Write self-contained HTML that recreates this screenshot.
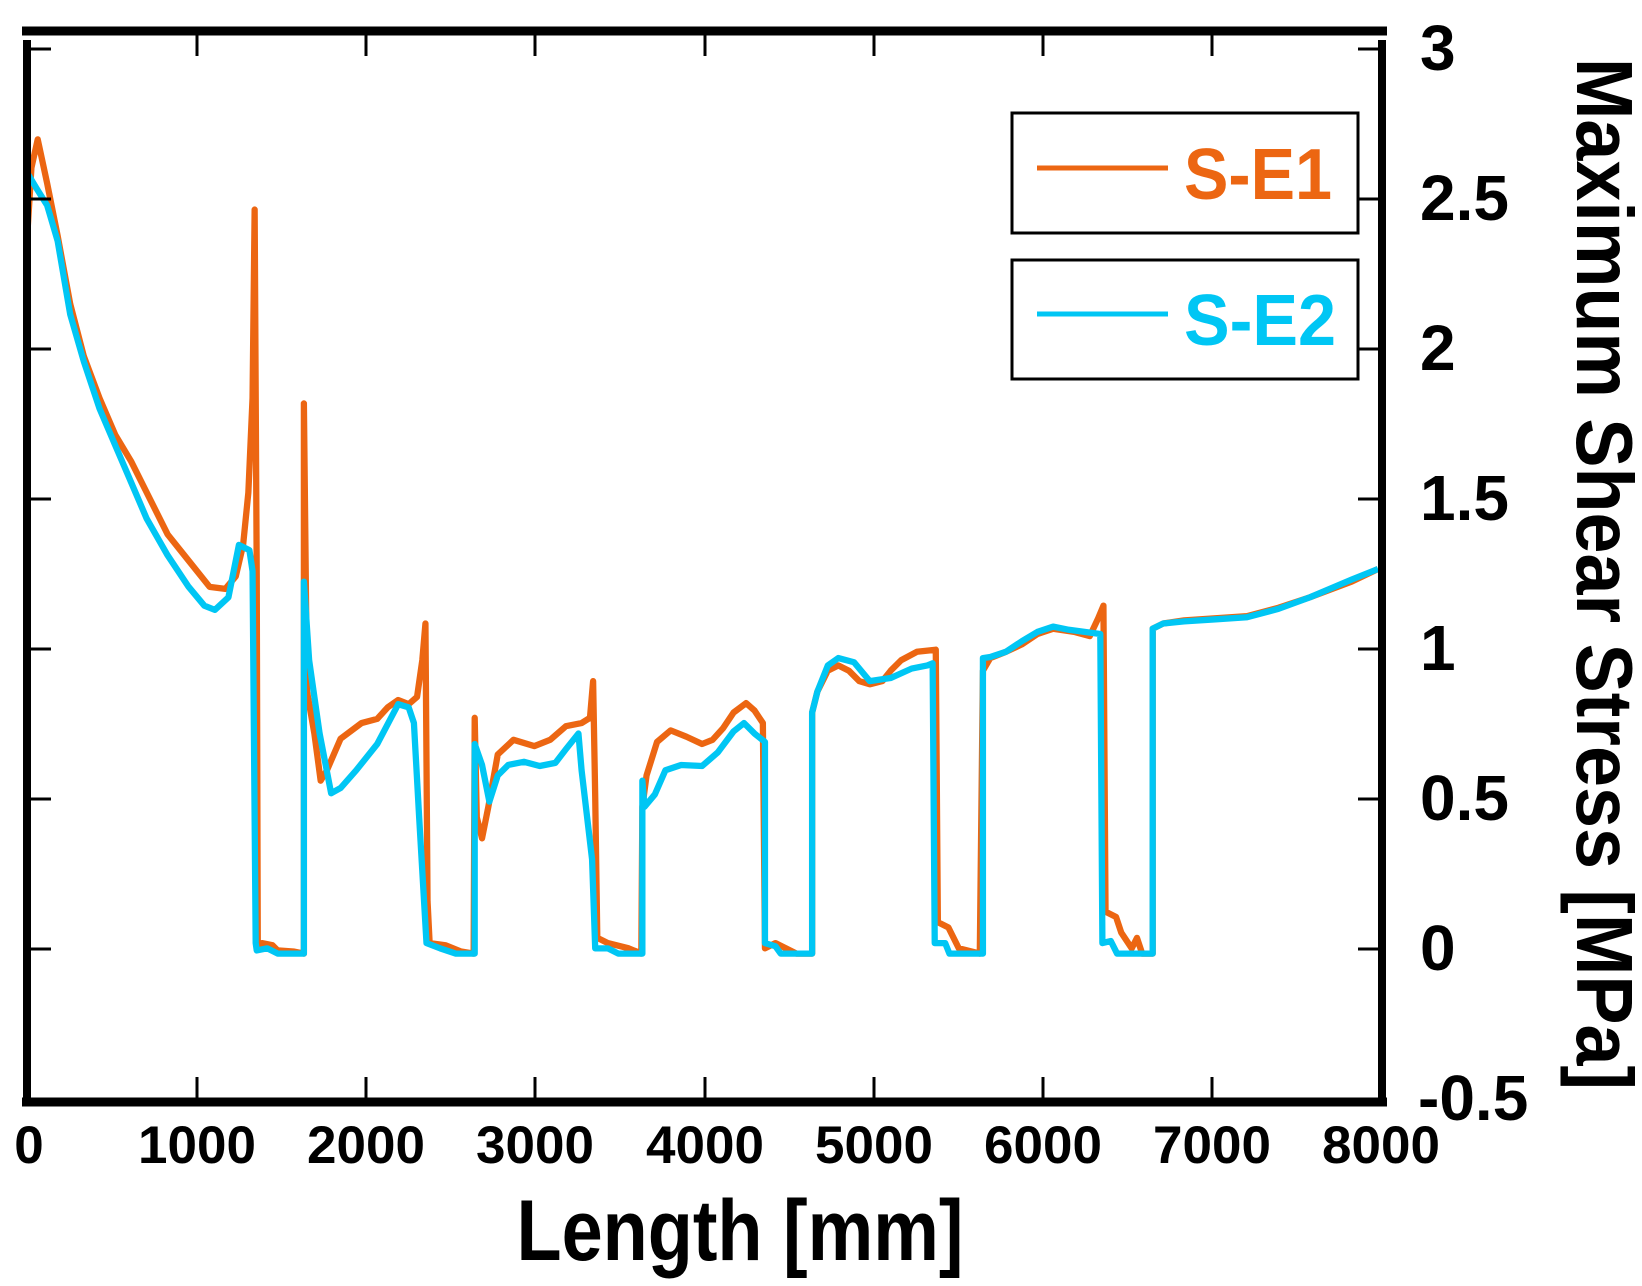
<!DOCTYPE html>
<html><head><meta charset="utf-8"><style>html,body{margin:0;padding:0;background:#fff}svg{display:block}</style></head>
<body>
<svg width="1642" height="1286" viewBox="0 0 1642 1286" xmlns="http://www.w3.org/2000/svg" font-family="Liberation Sans, sans-serif" font-weight="bold">
<rect width="1642" height="1286" fill="#fff"/>
<g transform="scale(1.0479)" fill="none" stroke-width="6" stroke-linejoin="round">
<polyline stroke="#ec6612" points="26,225 30,160 36,133 45,175 55,225 67,290 80,340 95,380 110,415 125,440 140,470 160,510 180,535 200,560 215,562 225,550 232,520 237,470 241,380 243,200 245,550 246,905 250,900 260,902 265,907 280,908 290,910 290,700 290,385 293,660 300,700 306,745 312,735 325,705 345,690 360,686 370,675 380,668 390,672 398,665 403,630 406,595 408,860 410,900 425,902 440,908 452,910 453,685 455,780 460,800 466,770 475,720 490,706 510,712 525,706 540,693 555,690 563,685 566,650 568,760 570,895 580,900 600,905 612,910 613,770 617,740 627,708 640,697 655,703 670,710 680,706 690,695 700,680 712,671 720,678 728,690 730,905 740,900 750,905 760,910 775,910 775,680 780,660 790,640 800,635 810,640 820,650 830,653 842,650 850,640 860,630 875,622 893,620 895,880 905,885 915,905 935,910 938,640 945,628 960,622 975,615 990,605 1005,600 1025,603 1040,607 1048,590 1053,578 1055,870 1065,875 1070,890 1080,905 1085,895 1090,910 1100,910 1100,600 1110,595 1130,592 1160,590 1190,588 1220,580 1250,570 1290,555 1315,543"/>
<polyline stroke="#00c6f4" points="26,165 35,180 45,196 55,230 67,300 80,345 95,390 110,425 125,460 140,495 160,530 180,560 195,578 205,582 218,570 228,520 238,525 241,545 244,900 245,907 255,905 265,910 290,910 290,555 295,630 305,700 316,757 325,752 340,735 360,710 380,672 390,675 395,690 400,780 407,900 420,905 435,910 453,910 453,710 460,730 467,765 475,740 485,730 500,727 515,731 530,728 540,715 552,700 555,735 565,820 568,905 580,905 590,910 613,910 613,745 615,770 625,758 635,735 650,730 670,731 685,718 700,698 710,690 720,700 730,708 730,900 740,903 745,910 775,910 775,680 780,660 790,635 800,628 815,632 830,650 850,647 870,638 885,635 890,633 892,900 902,900 906,910 938,910 938,628 945,627 960,622 975,612 990,603 1005,598 1020,601 1050,605 1052,900 1060,898 1066,910 1100,910 1100,600 1110,595 1130,593 1160,591 1190,589 1220,581 1250,570 1290,553 1315,543"/>
</g>
<rect x="0" y="0" width="23" height="1286" fill="#fff"/>
<g stroke="#000">
<line x1="22" y1="31" x2="1387" y2="31" stroke-width="9"/>
<line x1="22" y1="1102" x2="1387" y2="1102" stroke-width="9"/>
<line x1="27" y1="40" x2="27" y2="1106" stroke-width="8"/>
<line x1="1382" y1="40" x2="1382" y2="1106" stroke-width="8"/>
<g stroke-width="3">
<path d="M197,35V56 M366,35V56 M535,35V56 M705,35V56 M874,35V56 M1043,35V56 M1212,35V56 M197,1098V1077 M366,1098V1077 M535,1098V1077 M705,1098V1077 M874,1098V1077 M1043,1098V1077 M1212,1098V1077"/>
<path d="M31,49H51 M31,199H51 M31,349H51 M31,499H51 M31,649H51 M31,799H51 M31,949H51 M1378,49H1358 M1378,199H1358 M1378,349H1358 M1378,499H1358 M1378,649H1358 M1378,799H1358 M1378,949H1358"/>
</g>
</g>
<g font-size="53" text-anchor="middle" fill="#000">
<text x="29" y="1163">0</text><text x="197" y="1163">1000</text><text x="366" y="1163">2000</text><text x="535" y="1163">3000</text><text x="705" y="1163">4000</text><text x="874" y="1163">5000</text><text x="1043" y="1163">6000</text><text x="1212" y="1163">7000</text><text x="1381" y="1163">8000</text>
</g>
<g font-size="64" fill="#000">
<text x="1420" y="70">3</text><text x="1420" y="220">2.5</text><text x="1420" y="370">2</text><text x="1420" y="520">1.5</text><text x="1420" y="670">1</text><text x="1420" y="820">0.5</text><text x="1420" y="970">0</text><text x="1418" y="1120">-0.5</text>
</g>
<text x="740" y="1260" font-size="86" text-anchor="middle" textLength="447" lengthAdjust="spacingAndGlyphs" fill="#000">Length [mm]</text>
<text transform="translate(1577,574) rotate(90)" font-size="80" text-anchor="middle" textLength="1032" lengthAdjust="spacingAndGlyphs" fill="#000">Maximum Shear Stress [MPa]</text>
<rect x="1012" y="113" width="346" height="120" fill="#fff" stroke="#000" stroke-width="3"/>
<rect x="1012" y="260" width="346" height="119" fill="#fff" stroke="#000" stroke-width="3"/>
<line x1="1037" y1="168" x2="1168" y2="168" stroke="#ec6612" stroke-width="5"/>
<line x1="1037" y1="314" x2="1168" y2="314" stroke="#00c6f4" stroke-width="5"/>
<text x="1184" y="199" font-size="72" fill="#ec6612" textLength="148" lengthAdjust="spacingAndGlyphs">S-E1</text>
<text x="1184" y="345" font-size="72" fill="#00c6f4" textLength="152" lengthAdjust="spacingAndGlyphs">S-E2</text>
</svg>
</body></html>
